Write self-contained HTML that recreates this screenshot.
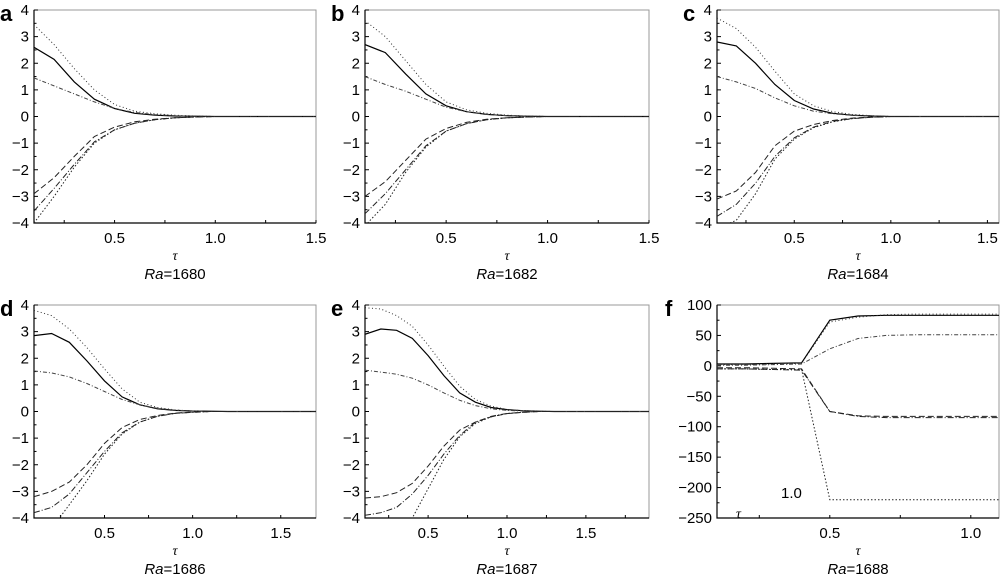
<!DOCTYPE html>
<html><head><meta charset="utf-8"><style>
body{margin:0;background:#fff;}
svg{display:block;font-family:"Liberation Sans",sans-serif;}
</style></head><body>
<svg id="chart" width="1000" height="575" viewBox="0 0 1000 575" xmlns="http://www.w3.org/2000/svg"></svg>
<script>
// ---------- data ----------
const panelLetters = ["a","b","c","d","e","f"];
const raValues = ["1680","1682","1684","1686","1687","1688"];
const xRanges = [[0.1,1.5],[0.1,1.5],[0.1,1.56],[0.1,1.7],[0.1,1.9],[0.1,1.1]];
const yRanges = [[-4,4],[-4,4],[-4,4],[-4,4],[-4,4],[-250,100]];
const xTickLabels = [["0.5","1.0","1.5"],["0.5","1.0","1.5"],["0.5","1.0","1.5"],["0.5","1.0","1.5"],["0.5","1.0","1.5"],["0.5","1.0"]];
const yTicksSmall = [4,3,2,1,0,-1,-2,-3,-4];
const yTicksF = [100,50,0,-50,-100,-150,-200,-250];
const tauStep = 0.1;
// series per panel: solid, dottedUp, dashDotUp, dashedLow, dashDotLow, dottedLow
const solidA=[2.6,2.15,1.3,0.65,0.3,0.12,0.05,0.02,0.01,0,0,0,0,0,0];
const dotUpA=[3.45,2.7,1.8,1.0,0.45,0.2,0.1,0.05,0.02,0,0,0,0,0,0];
const ddUpA=[1.45,1.15,0.85,0.55,0.3,0.15,0.07,0.03,0.01,0,0,0,0,0,0];
const dashLowA=[-2.9,-2.3,-1.5,-0.75,-0.4,-0.2,-0.1,-0.05,-0.02,0,0,0,0,0,0];
const ddLowA=[-3.55,-2.7,-1.8,-0.95,-0.5,-0.25,-0.12,-0.05,-0.02,0,0,0,0,0,0];
const dotLowA=[-4.0,-3.0,-1.9,-1.0,-0.5,-0.25,-0.12,-0.05,-0.02,0,0,0,0,0,0];
const solidB=[2.7,2.4,1.6,0.85,0.4,0.18,0.08,0.03,0.01,0,0,0,0,0,0];
const dotUpB=[3.6,3.0,2.1,1.2,0.55,0.25,0.12,0.05,0.02,0,0,0,0,0,0];
const ddUpB=[1.5,1.2,0.95,0.65,0.35,0.18,0.08,0.03,0.01,0,0,0,0,0,0];
const dashLowB=[-3.0,-2.45,-1.65,-0.85,-0.45,-0.22,-0.1,-0.05,-0.02,0,0,0,0,0,0];
const ddLowB=[-3.65,-2.9,-2.0,-1.1,-0.55,-0.27,-0.12,-0.05,-0.02,0,0,0,0,0,0];
const dotLowB=[-4.1,-3.3,-2.1,-1.15,-0.55,-0.27,-0.12,-0.05,-0.02,0,0,0,0,0,0];
const solidC=[2.8,2.65,2.0,1.2,0.6,0.28,0.12,0.05,0.02,0,0,0,0,0,0,0];
const dotUpC=[3.7,3.3,2.6,1.7,0.85,0.4,0.18,0.08,0.03,0,0,0,0,0,0,0];
const ddUpC=[1.5,1.3,1.05,0.7,0.4,0.2,0.1,0.04,0.02,0,0,0,0,0,0,0];
const dashLowC=[-3.1,-2.8,-2.1,-1.1,-0.55,-0.3,-0.15,-0.06,-0.02,0,0,0,0,0,0,0];
const ddLowC=[-3.75,-3.3,-2.5,-1.5,-0.8,-0.4,-0.18,-0.08,-0.03,0,0,0,0,0,0,0];
const dotLowC=[-4.2,-3.9,-2.9,-1.6,-0.85,-0.42,-0.2,-0.08,-0.03,0,0,0,0,0,0,0];
const solidD=[2.85,2.93,2.6,1.9,1.15,0.55,0.25,0.1,0.04,0.02,0.01,0,0,0,0,0,0];
const dotUpD=[3.8,3.6,3.1,2.4,1.6,0.85,0.35,0.15,0.06,0.02,0,0,0,0,0,0,0];
const ddUpD=[1.52,1.45,1.3,1.05,0.75,0.45,0.25,0.12,0.05,0.02,0,0,0,0,0,0,0];
const dashLowD=[-3.2,-3.0,-2.65,-2.0,-1.2,-0.6,-0.3,-0.15,-0.06,-0.02,0,0,0,0,0,0,0];
const ddLowD=[-3.8,-3.6,-3.1,-2.3,-1.5,-0.8,-0.4,-0.18,-0.07,-0.03,0,0,0,0,0,0,0];
const dotLowD=[-5.0,-4.4,-3.5,-2.6,-1.6,-0.85,-0.4,-0.18,-0.07,-0.03,0,0,0,0,0,0,0];
const solidE=[2.9,3.1,3.05,2.75,2.1,1.35,0.7,0.35,0.15,0.07,0.03,0.01,0,0,0,0,0,0,0];
const dotUpE=[3.9,3.85,3.6,3.2,2.5,1.7,0.95,0.45,0.2,0.08,0.03,0.01,0,0,0,0,0,0,0];
const ddUpE=[1.55,1.48,1.4,1.25,1.0,0.7,0.42,0.22,0.1,0.04,0.02,0,0,0,0,0,0,0,0];
const dashLowE=[-3.25,-3.2,-3.05,-2.7,-2.05,-1.3,-0.7,-0.4,-0.2,-0.08,-0.03,0,0,0,0,0,0,0,0];
const ddLowE=[-3.9,-3.8,-3.6,-3.1,-2.4,-1.6,-0.9,-0.4,-0.18,-0.07,-0.03,0,0,0,0,0,0,0,0];
const dotLowE=[-6.0,-5.5,-4.8,-4.0,-2.9,-1.8,-0.95,-0.45,-0.2,-0.08,-0.03,0,0,0,0,0,0,0,0];
const solidF=[3,3,4,5,75,82,83,83,83,83,83];
const dotUpF=[2,2,3,4,72,80,84,85,85,85,85];
const ddUpF=[1,1,2,3,28,45,50,51,51,51,51];
const dashLowF=[-3,-3,-4,-5,-75,-82,-83,-83,-83,-83,-83];
const ddLowF=[-5,-5,-6,-7,-75,-83,-85,-85,-85,-85,-85];
const dotLowF=[-5,-5,-6,-6,-220,-220,-220,-220,-220,-220,-220];

const seriesSets = [
 [solidA,dotUpA,ddUpA,dashLowA,ddLowA,dotLowA],
 [solidB,dotUpB,ddUpB,dashLowB,ddLowB,dotLowB],
 [solidC,dotUpC,ddUpC,dashLowC,ddLowC,dotLowC],
 [solidD,dotUpD,ddUpD,dashLowD,ddLowD,dotLowD],
 [solidE,dotUpE,ddUpE,dashLowE,ddLowE,dotLowE],
 [solidF,dotUpF,ddUpF,dashLowF,ddLowF,dotLowF]];
const seriesNames=["solid","dotted-upper","dash-dot-upper","dashed-lower","dash-dot-lower","dotted-lower"];

// ---------- layout ----------
const boxes=[[34,316,10,223],[365,649,10,223],[717,999,10,223],[34,316,305,518],[365,649,305,518],[717,999,305,518]];
const styles=[
 {dash:"",col:"#000",w:1.2},
 {dash:"1,2.5",col:"#333",w:1},
 {dash:"4,2,1,2",col:"#444",w:1},
 {dash:"6,3",col:"#222",w:1},
 {dash:"6,2,1,2",col:"#222",w:1},
 {dash:"1.5,2",col:"#222",w:1}];
const svg=document.getElementById('chart');
const NS="http://www.w3.org/2000/svg";
function mk(tag,attrs,parent){const e=document.createElementNS(NS,tag);for(const k in attrs)e.setAttribute(k,attrs[k]);(parent||svg).appendChild(e);return e;}

boxes.forEach((b,p)=>{
 const [L,R,T,B]=b;
 const [x0,x1]=xRanges[p],[y0,y1]=yRanges[p];
 const xs=v=>L+(v-x0)/(x1-x0)*(R-L);
 const ys=v=>B-(v-y0)/(y1-y0)*(B-T);
 const g=mk('g',{});
 
 
 const clipId='clip'+p;
 const cp=mk('clipPath',{id:clipId},g);mk('rect',{x:L,y:T,width:R-L,height:B-T},cp);
 const frame=mk('rect',{x:L,y:T,width:R-L,height:B-T,fill:'none',stroke:'#999','stroke-width':1},g);
 
 
 const ax=mk('path',{d:`M${L},${T}V${B}H${R}`,fill:'none',stroke:'#000','stroke-width':1.2},g);
 
 
 const yt = p===5?yTicksF:yTicksSmall;
 const ystep=yt[0]-yt[1];
 yt.forEach(v=>{
  mk('line',{x1:L,x2:L+4,y1:ys(v),y2:ys(v),stroke:'#000'},g);
  if(v>y0) mk('line',{x1:L,x2:L+2.5,y1:ys(v-ystep/2),y2:ys(v-ystep/2),stroke:'#000'},g);
  const t=mk('text',{x:L-5,y:ys(v)+5,'text-anchor':'end','font-size':15},g);
  t.textContent=(v<0?'\u2212'+Math.abs(v):String(v));
  
  
 });
 for(let v=0.25;v<x1+1e-6;v+=0.25){ if(v<x0)continue;
  mk('line',{x1:xs(v),x2:xs(v),y1:B,y2:B-3,stroke:'#000'},g);}
 xTickLabels[p].forEach(s=>{
  const t=mk('text',{x:xs(parseFloat(s)),y:B+20,'text-anchor':'middle','font-size':15},g);
  t.textContent=s;
  
  
 });
 const tau=mk('text',{x:(L+R)/2,y:B+37,'text-anchor':'middle','font-size':14,'font-family':'Liberation Serif,serif','font-style':'italic'},g);
 tau.textContent='τ';
 
 
 const ra=mk('text',{x:(L+R)/2,y:B+56,'text-anchor':'middle','font-size':15},g);
 ra.innerHTML='<tspan font-style="italic">Ra</tspan>='+raValues[p];
 
 
 const lt=mk('text',{x:(p===5?L-52:L-34),y:T+11,'font-size':22,'font-weight':'bold'},g);
 lt.textContent=panelLetters[p];
 
 
 seriesSets[p].forEach((arr,i)=>{
  const d=arr.map((v,k)=>(k?'L':'M')+xs(x0+k*tauStep).toFixed(1)+','+ys(v).toFixed(1)).join('');
  const st=styles[i];
  const pa=mk('path',{d:d,fill:'none',stroke:st.col,'stroke-width':st.w,'stroke-dasharray':st.dash,'clip-path':`url(#${clipId})`},g);
  
  
 });
 if(p===5){
  const s1=mk('text',{x:781,y:498,'font-size':15},g);s1.textContent='1.0';
  
  
  const s2=mk('text',{x:736,y:518,'font-size':14,'font-family':'Liberation Serif,serif','font-style':'italic'},g);s2.textContent='τ';
  
  
 }
});
</script>
</body></html>
